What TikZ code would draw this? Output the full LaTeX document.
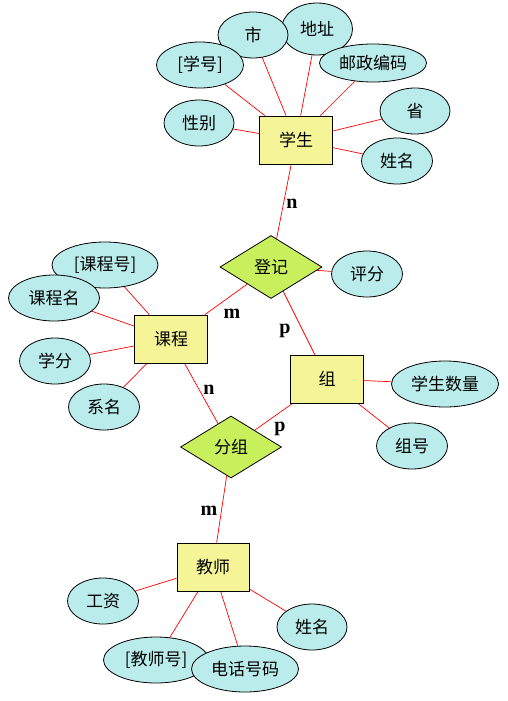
\documentclass[tikz,border=0pt]{standalone}
\usepackage{fontspec}
\setmainfont{Liberation Serif}
\newfontfamily\cjk{Noto Sans CJK SC}
\usetikzlibrary{shapes.geometric}
\pgfdeclarelayer{background}
\pgfsetlayers{background,main}
\definecolor{entfill}{RGB}{245,245,152}
\definecolor{relfill}{RGB}{200,240,92}
\definecolor{attrfill}{RGB}{186,236,236}
\tikzset{
    entity/.style={draw, fill=entfill, rectangle, minimum width=73pt, minimum height=48pt, inner sep=0pt, font=\cjk\fontsize{17}{20}\selectfont},
    relation/.style={draw, fill=relfill, diamond, minimum width=102pt, minimum height=63pt, inner sep=0pt, font=\cjk\fontsize{17}{20}\selectfont},
    attr/.style={draw, fill=attrfill, ellipse, minimum width=71pt, minimum height=46pt, inner sep=0pt, font=\cjk\fontsize{17}{20}\selectfont},
    wide/.style={minimum width=107pt},
    link/.style={draw=red, line width=0.7pt},
    card/.style={font=\fontsize{20}{22}\selectfont\bfseries},
}
\begin{document}
\begin{tikzpicture}[x=1pt, y=-1pt, line width=0.8pt]
    \useasboundingbox (0,0) rectangle (508,701);

    % entities
    \node[entity] (student) at (296,140) {学生};
    \node[entity] (course) at (171,339) {课程};
    \node[entity] (group) at (327,379) {组};
    \node[entity, minimum width=72pt] (teacher) at (213,567) {教师};

    % relations
    \node[relation] (enrol) at (271,267) {登记};
    \node[relation, minimum width=101pt, minimum height=62pt] (assign) at (231,447) {分组};

    % attributes of student
    \node[attr, minimum height=52pt] (address) at (317,29) {地址};
    \node[attr, minimum width=70pt] (city) at (253,35) {市};
    \node[attr, minimum width=87pt] (sno) at (200,65) {[学号]};
    \node[attr, wide, minimum height=38pt] (postcode) at (373,63) {邮政编码};
    \node[attr, minimum width=70pt] (sex) at (199,123) {性别};
    \node[attr, minimum width=70pt] (province) at (415,111) {省};
    \node[attr] (sname) at (397,161) {姓名};

    % attributes of enrol
    \node[attr] (score) at (367,274) {评分};

    % attributes of course
    \node[attr, minimum width=106pt] (cno) at (105,265) {[课程号]};
    \node[attr, minimum width=91pt] (cname) at (54,298) {课程名};
    \node[attr] (credit) at (55,361) {学分};
    \node[attr] (dept) at (104,407) {系名};

    % attributes of group
    \node[attr, wide] (size) at (445,384) {学生数量};
    \node[attr] (gno) at (412,446) {组号};

    % attributes of teacher
    \node[attr] (salary) at (103,601) {工资};
    \node[attr, minimum width=105pt] (tno) at (156,660) {[教师号]};
    \node[attr, wide] (phone) at (245,669) {电话号码};
    \node[attr, minimum width=70pt] (tname) at (312,627) {姓名};

    \begin{pgfonlayer}{background}
      \foreach \a in {address, city, sno, postcode, sex, province, sname}
        \path[link] (student) -- (\a);
      \foreach \a in {cno, cname, credit, dept}
        \path[link] (course) -- (\a);
      \foreach \a in {size, gno}
        \path[link] (group) -- (\a);
      \foreach \a in {salary, tno, phone, tname}
        \path[link] (teacher) -- (\a);
      \path[link] (enrol) -- (score);
      \path[link] (student) -- (enrol);
      \path[link] (course) -- (enrol);
      \path[link] (enrol) -- (group);
      \path[link] (course) -- (assign);
      \path[link] (assign) -- (group);
      \path[link] (assign) -- (teacher);
    \end{pgfonlayer}

    % cardinalities
    \node[card] (c1) at (292,204) {n};
    \node[card] (c2) at (232,314) {m};
    \node[card] (c3) at (285,331) {p};
    \node[card] (c4) at (209,390) {n};
    \node[card] (c5) at (280,429) {p};
    \node[card] (c6) at (209,511) {m};

\end{tikzpicture}
\end{document}
